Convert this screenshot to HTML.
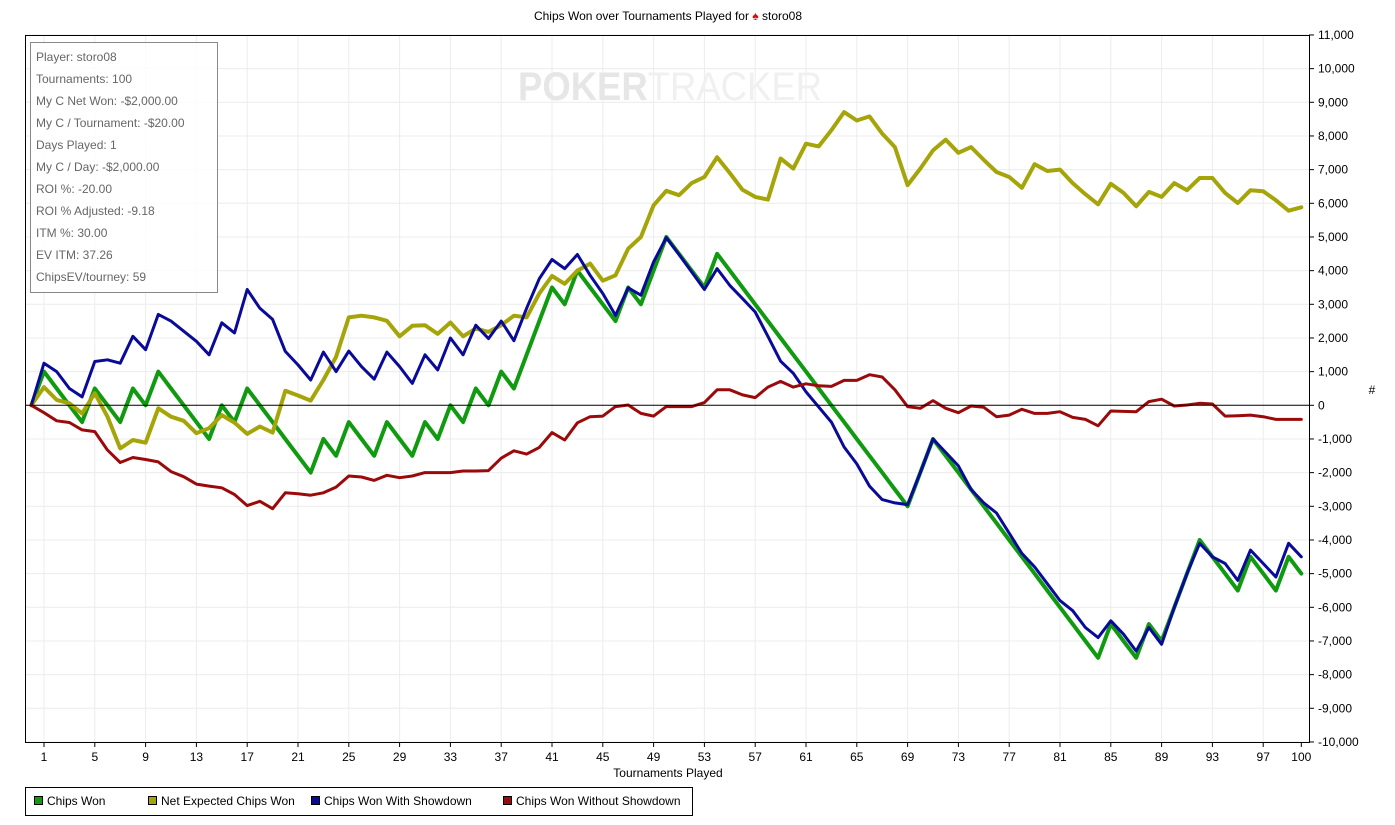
<!DOCTYPE html>
<html><head><meta charset="utf-8"><style>
html,body{margin:0;padding:0;background:#fff;width:1395px;height:825px;overflow:hidden}
svg{display:block;font-family:"Liberation Sans",Arial,sans-serif}
</style></head><body>
<svg id="c" width="1395" height="825" xmlns="http://www.w3.org/2000/svg">
<rect width="1395" height="825" fill="#fff"/>
<text x="668" y="20" font-size="12" text-anchor="middle" fill="#000">Chips Won over Tournaments Played for <tspan fill="#d01010">♠</tspan> storo08</text>
<g id="grid"></g>
<text x="518" y="100" font-size="40" fill="#e6e6e6" textLength="304" lengthAdjust="spacingAndGlyphs"><tspan font-weight="bold">POKER</tspan><tspan fill="#f0f0f0">TRACKER</tspan></text>
<g id="series"></g>
<rect x="25.5" y="35.5" width="1284" height="707" fill="none" stroke="#000" stroke-width="1"/>
<g id="axes" font-size="12" fill="#000"></g>
<text x="668" y="777" font-size="12" text-anchor="middle">Tournaments Played</text>
<text x="1372" y="394" font-size="12" text-anchor="middle">#</text>
<rect x="30.5" y="42.5" width="187" height="250" fill="#fff" fill-opacity="0.85" stroke="#888"/>
<g font-size="12" fill="#666">
<text x="36" y="61">Player: storo08</text>
<text x="36" y="83">Tournaments: 100</text>
<text x="36" y="105">My C Net Won: -$2,000.00</text>
<text x="36" y="127">My C / Tournament: -$20.00</text>
<text x="36" y="149">Days Played: 1</text>
<text x="36" y="171">My C / Day: -$2,000.00</text>
<text x="36" y="193">ROI %: -20.00</text>
<text x="36" y="215">ROI % Adjusted: -9.18</text>
<text x="36" y="237">ITM %: 30.00</text>
<text x="36" y="259">EV ITM: 37.26</text>
<text x="36" y="281">ChipsEV/tourney: 59</text>
</g>
<rect x="25.5" y="787.5" width="667" height="28" fill="#fff" stroke="#000"/>
<g font-size="12">
<rect x="34.5" y="796.5" width="8" height="8" fill="#109a10" stroke="#000"/><text x="47" y="805">Chips Won</text>
<rect x="148.5" y="796.5" width="8" height="8" fill="#a5a50a" stroke="#000"/><text x="161" y="805">Net Expected Chips Won</text>
<rect x="311.5" y="796.5" width="8" height="8" fill="#0a0a9a" stroke="#000"/><text x="324" y="805">Chips Won With Showdown</text>
<rect x="503.5" y="796.5" width="8" height="8" fill="#9a0a0a" stroke="#000"/><text x="516" y="805">Chips Won Without Showdown</text>
</g>
</svg>
<script>
var NS="http://www.w3.org/2000/svg";
function X(i){return 31.3+12.7*i;}
function Y(v){return 405.3-v*0.033667;}
function el(p,t,a,txt){var e=document.createElementNS(NS,t);for(var k in a)e.setAttribute(k,a[k]);if(txt!=null)e.textContent=txt;p.appendChild(e);return e;}
var g=document.getElementById('grid'),ax=document.getElementById('axes'),s=document.getElementById('series');
for(var v=-10000;v<=11000;v+=1000){var y=Y(v);
 if(v!=0)el(g,'line',{x1:26,x2:1309,y1:y,y2:y,stroke:'#ececec','stroke-width':1});
 el(ax,'line',{x1:1309,x2:1314,y1:y,y2:y,stroke:'#000'});
 el(ax,'text',{x:1318,y:y+4},v.toLocaleString('en-US'));}
for(var i=1;i<=100;i+=4){var x=X(i);
 el(g,'line',{x1:x,x2:x,y1:36,y2:742,stroke:'#ececec','stroke-width':1});
 el(ax,'line',{x1:x,x2:x,y1:742,y2:747,stroke:'#000'});
 el(ax,'text',{x:x,y:761,'text-anchor':'middle'},String(i));}
el(ax,'line',{x1:X(100),x2:X(100),y1:742,y2:747,stroke:'#000'});
el(ax,'text',{x:X(100),y:761,'text-anchor':'middle'},'100');
el(ax,'line',{x1:26,x2:1309,y1:Y(0),y2:Y(0),stroke:'#000','stroke-width':1});
var green=[0,1000,500,0,-500,500,0,-500,500,0,1000,500,0,-500,-1000,0,-500,500,0,-500,-1000,-1500,-2000,-1000,-1500,-500,-1000,-1500,-500,-1000,-1500,-500,-1000,0,-500,500,0,1000,500,1500,2500,3500,3000,4000,3500,3000,2500,3500,3000,4000,5000,4500,4000,3500,4500];
for(var k=55;k<=69;k++)green.push(4500-500*(k-54));
green.push(-2000,-1000);
for(k=72;k<=84;k++)green.push(-1000-500*(k-71));
green.push(-6500,-7000,-7500,-6500,-7000,-6000,-5000,-4000,-4500,-5000,-5500,-4500,-5000,-5500,-4500,-5000);
var yellow=[0,540,160,60,-240,360,-340,-1280,-1030,-1110,-90,-340,-460,-830,-680,-290,-515,-850,-630,-810,430,290,140,750,1440,2610,2660,2610,2510,2050,2360,2380,2120,2460,2050,2280,2180,2380,2660,2610,3320,3840,3610,4000,4210,3700,3860,4650,5000,5940,6370,6240,6600,6780,7370,6900,6400,6190,6110,7330,7030,7770,7690,8170,8710,8460,8580,8070,7670,6540,7030,7570,7890,7500,7670,7290,6930,6780,6460,7160,6960,7000,6600,6270,5970,6580,6310,5910,6340,6190,6600,6390,6750,6750,6310,6010,6390,6360,6090,5780,5880];
var blue=[0,1250,1000,500,250,1300,1350,1250,2050,1650,2700,2500,2200,1900,1500,2450,2150,3440,2880,2550,1600,1200,750,1580,1000,1610,1150,775,1580,1150,650,1500,1050,2000,1500,2380,1980,2500,1920,2880,3760,4330,4060,4480,3860,3320,2670,3490,3270,4260,4980,4480,3960,3440,4060,3560,3170,2770,2050,1310,950,400,-50,-500,-1240,-1740,-2400,-2800,-2900,-2950,-2000,-1000,-1400,-1800,-2500,-2900,-3200,-3800,-4400,-4800,-5300,-5800,-6100,-6600,-6900,-6400,-6800,-7300,-6600,-7100,-6000,-5000,-4100,-4500,-4700,-5200,-4300,-4700,-5100,-4100,-4500];
var red=[0,-220,-460,-510,-730,-780,-1330,-1700,-1550,-1610,-1680,-1970,-2120,-2340,-2400,-2450,-2650,-2980,-2850,-3070,-2600,-2630,-2670,-2600,-2430,-2100,-2130,-2230,-2080,-2150,-2100,-2000,-2000,-2000,-1950,-1950,-1940,-1570,-1350,-1450,-1250,-810,-1030,-520,-340,-320,-40,10,-240,-320,-40,-40,-40,80,460,460,310,230,540,710,540,640,580,560,740,740,910,840,460,-40,-90,140,-90,-220,-20,-60,-340,-290,-120,-240,-240,-190,-360,-420,-610,-170,-180,-190,110,180,-20,10,60,40,-320,-310,-290,-340,-420,-420,-420];
function line(d,c,w){var p=d.map(function(v,i){return X(i).toFixed(1)+','+Y(v).toFixed(1)}).join(' ');
 el(s,'polyline',{points:p,fill:'none',stroke:c,'stroke-width':w,'stroke-linejoin':'round','stroke-linecap':'round'});}
line(green,'#109a10',4);
line(yellow,'#a5a50a',4);
line(blue,'#0a0a9a',3);
line(red,'#9a0a0a',3);
</script>
</body></html>
